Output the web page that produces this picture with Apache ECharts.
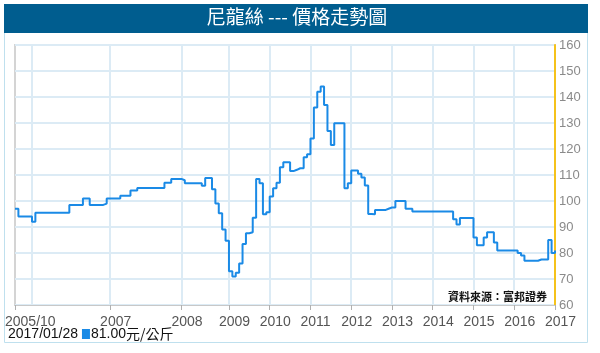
<!DOCTYPE html>
<html><head><meta charset="utf-8">
<script src="https://cdn.jsdelivr.net/npm/echarts@6/dist/echarts.min.js"></script>
<style>html,body{margin:0;padding:0;background:#fff}#c{width:600px;height:353px}</style>
</head><body><div id="c"></div>
<script>
// date segments: [start, end, number of records]
const segments = [
  ['2005-10-01', '2006-01-01', 5],
  ['2006-01-01', '2007-01-01', 23],
  ['2007-01-01', '2008-01-01', 21],
  ['2008-01-01', '2009-01-01', 14]
];
const monthlyFrom = 2009, monthlyTo = 2016;
const lastDate = '2017/01/28';

const prices = [
  97, 94, 94, 94, 94, 92, 95.5, 95.5, 95.5, 95.5,
  95.5, 95.5, 95.5, 95.5, 95.5, 95.5, 98.5, 98.5, 98.5, 98.5,
  101, 101, 98.5, 98.5, 98.5, 98.5, 99, 101, 101, 101,
  101, 102, 102, 102, 104, 104, 105, 105, 105, 105,
  105, 105, 105, 105, 107, 107, 108.5, 108.5, 108.5, 108,
  106.8, 106.8, 106.8, 106.8, 106.8, 105.9, 108.8, 108.8, 104.5, 99,
  95.3, 89, 84.7, 73, 71, 72.4, 76, 83.5, 87.6, 88,
  93.6, 108.5, 106.8, 94.9, 95.7, 101.7, 104.9, 107, 113, 114.9,
  114.9, 111.5, 112, 112.6, 112.6, 116.8, 118, 124, 136, 142,
  144, 136.9, 126.9, 121.5, 129.9, 129.9, 129.9, 104.9, 106.8, 111.7,
  111.7, 110.5, 109, 106, 95, 94.9, 96.5, 96.5, 96.5, 97,
  97.5, 97.5, 100, 100, 100, 97, 97, 96, 96, 96,
  96, 96, 96, 96, 96, 96, 96, 96, 96, 93,
  91, 93.5, 93.5, 93.5, 93.5, 86, 83, 83, 86, 88,
  88, 84, 81, 81, 81, 81, 81, 81, 80, 79,
  77, 77, 77, 77, 77.5, 77.5, 77.5, 85, 80, 81
];

const yMin = 60, yMax = 160, yStep = 10;
const titleText = '尼龍絲 --- 價格走勢圖';
const sourceText = '資料來源：富邦證券';
const lastInfo = { date: '2017/01/28', price: '81.00', unit: '元/公斤' };

function fmt(d) {
  const m = d.getUTCMonth() + 1, day = d.getUTCDate();
  return d.getUTCFullYear() + '/' + (m < 10 ? '0' : '') + m + '/' + (day < 10 ? '0' : '') + day;
}
const categories = [];
segments.forEach(function (s) {
  const a = Date.parse(s[0]), b = Date.parse(s[1]);
  for (let k = 0; k < s[2]; k++) categories.push(fmt(new Date(a + (b - a) * k / s[2])));
});
for (let y = monthlyFrom; y <= monthlyTo; y++) {
  for (let m = 1; m <= 12; m++) categories.push(y + '/' + (m < 10 ? '0' : '') + m + '/01');
}
categories.push(lastDate);

function yearOf(i) { return categories[i].slice(0, 4); }
function isYearStart(i) { return i > 0 && yearOf(i) !== yearOf(i - 1); }
function hasLabel(i) {
  if (i === 0) return true;
  if (!isYearStart(i)) return false;
  return yearOf(i) !== '2006';
}

const chart = echarts.init(document.getElementById('c'), null, { renderer: 'canvas' });
chart.setOption({
  animation: false,
  backgroundColor: '#fff',
  graphic: [
    { type: 'rect', shape: { x: 4.5, y: 5.5, width: 583, height: 337 }, style: { fill: 'none', stroke: '#bfe0ee', lineWidth: 1 }, z: 0 },
    { type: 'rect', shape: { x: 4, y: 4, width: 584, height: 29 }, style: { fill: '#005d8f' }, z: 1 }
  ],
  title: [
    { text: titleText, left: 297, top: 7, textAlign: 'center',
      textStyle: { color: '#fff', fontSize: 19, fontWeight: 'normal', fontFamily: 'Noto Sans CJK TC' }, padding: 0, z: 5 },
    { text: sourceText, right: 51, top: 290, padding: [1, 2],
      backgroundColor: '#fff',
      textStyle: { color: '#111', fontSize: 11, fontWeight: 'bold', fontFamily: 'Noto Sans CJK TC' } },
    { text: '{d|' + lastInfo.date + ' }{sq|}{p|' + lastInfo.price + '}{u|' + lastInfo.unit + '}',
      left: 8, top: 327, padding: 0,
      textStyle: { rich: {
        d: { color: '#111', fontSize: 14, fontWeight: 'normal', fontFamily: 'Liberation Sans' },
        sq: { width: 8, height: 10, backgroundColor: '#1a8ae6' },
        p: { color: '#111', fontSize: 14, fontWeight: 'normal', fontFamily: 'Liberation Sans', padding: [0, 0, 0, 1] },
        u: { color: '#111', fontSize: 14, fontWeight: 'normal', fontFamily: 'Noto Sans CJK TC' }
      } } }
  ],
  grid: { left: 15, right: 45, top: 45, bottom: 48, show: true, borderColor: '#d4d4d4', borderWidth: 2, containLabel: false },
  xAxis: {
    type: 'category', data: categories, boundaryGap: false,
    axisLine: { lineStyle: { color: '#c8c8c8', width: 1 } },
    axisTick: { show: true, length: 5, interval: function (i) { return hasLabel(i); }, lineStyle: { color: '#b0b0b0' } },
    axisLabel: {
      interval: function (i) { return hasLabel(i); },
      formatter: function (v, i) { return i === 0 ? v.slice(0, 7) : v.slice(0, 4); },
      color: '#555', fontSize: 14, fontFamily: 'Liberation Sans', align: 'left', margin: 10,
      padding: [0, 0, 0, -10]
    },
    splitLine: { show: true, interval: function (i) { return isYearStart(i); }, lineStyle: { color: '#dcebf5', width: 2 } }
  },
  yAxis: {
    type: 'value', position: 'right', min: yMin, max: yMax, interval: yStep,
    axisLine: { show: true, lineStyle: { color: '#f5c21b', width: 2 } },
    axisTick: { show: false },
    axisLabel: { color: '#8a8a8a', fontSize: 13, fontFamily: 'Liberation Sans', margin: 4, padding: [0, 0, 3, 0] },
    splitLine: { show: true, lineStyle: { color: '#dcebf5', width: 2 } }
  },
  series: [{
    type: 'line', data: prices, step: 'end', showSymbol: false, symbol: 'none',
    lineStyle: { color: '#1a8ae6', width: 2 }, z: 3
  }]
});
</script></body></html>
